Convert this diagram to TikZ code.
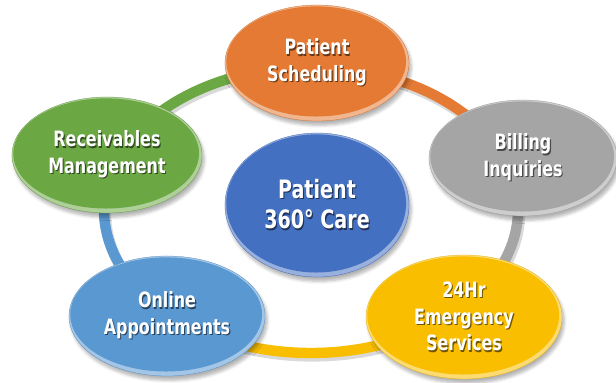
\documentclass[tikz,border=0pt]{standalone}
\usepackage{fontspec}
\setmainfont{DejaVu Sans Condensed}[FakeStretch=0.84]
\usetikzlibrary{shapes.geometric,shadows.blur,calc}
\definecolor{schedorange}{HTML}{E47A33}
\definecolor{billgray}{HTML}{A5A5A5}
\definecolor{emergold}{HTML}{F9BE00}
\definecolor{onlineblue}{HTML}{5A98D2}
\definecolor{recvgreen}{HTML}{6BA844}
\definecolor{coreblue}{HTML}{4470C2}
\newcommand\shd[1]{\makebox[0pt][l]{\kern0.8pt\raisebox{-0.9pt}{\textcolor{shcol}{#1}}}#1}
\begin{document}
\begin{tikzpicture}[x=0.025cm,y=0.025cm,
bubble/.style={ellipse,inner sep=0pt,minimum width=4.75cm,minimum height=2.9cm,
  fill=#1!55!white,draw=#1!90!black,line width=0.2pt,text=white,align=center,
  font=\bfseries\fontsize{15}{19}\selectfont,
  execute at begin node={\colorlet{shcol}{#1!45!black}},
  blur shadow={shadow xshift=1.5pt,shadow yshift=-3pt,shadow blur steps=6,shadow opacity=30},
  path picture={\fill[#1] let \p1=(path picture bounding box.north east),
    \p2=(path picture bounding box.center) in
    ([xshift=-0.6pt,yshift=1.1pt]\p2) ellipse [x radius={\x1-\x2-1.5pt},y radius={\y1-\y2-2.1pt}];}},
ringseg/.style={line width=0.26cm,draw=#1},
ringshd/.style={line width=0.28cm,draw=black!15},
]
\useasboundingbox (0,0) rectangle (616,382);
\coordinate (ring) at (311,172);
\draw[ringshd] ([shift={(1.5,-3)}]ring) ellipse [x radius=207,y radius=143];
\draw[ringseg=schedorange] (ring) ++(90:207 and 143) arc[start angle=90,end angle=18,x radius=207,y radius=143];
\draw[ringseg=billgray] (ring) ++(18:207 and 143) arc[start angle=18,end angle=-45,x radius=207,y radius=143];
\draw[ringseg=emergold] (ring) ++(-45:207 and 143) arc[start angle=-45,end angle=-134,x radius=207,y radius=143];
\draw[ringseg=onlineblue] (ring) ++(226:207 and 143) arc[start angle=226,end angle=162,x radius=207,y radius=143];
\draw[ringseg=recvgreen] (ring) ++(162:207 and 143) arc[start angle=162,end angle=90,x radius=207,y radius=143];
\node[bubble=schedorange,minimum width=4.6cm] (sched) at (317,319) {\shd{Patient}\\\shd{Scheduling}};
\node[bubble=billgray,minimum width=4.7cm] (bill) at (523,224) {\shd{Billing}\\\shd{Inquiries}};
\node[bubble=recvgreen] (recv) at (107,227) {\shd{Receivables}\\\shd{Management}};
\node[bubble=onlineblue,minimum width=4.9cm,minimum height=3cm] (online) at (167,66) {\shd{Online}\\\shd{Appointments}};
\node[bubble=emergold,minimum width=4.9cm,minimum height=3.1cm] (emerg) at (464,65) {\shd{24Hr}\\\shd{Emergency}\\\shd{Services}};
\node[bubble=coreblue,minimum width=4.6cm,minimum height=3.6cm,font=\bfseries\fontsize{18}{21.5}\selectfont] (core) at (317,177) {\shd{Patient}\\\shd{360° Care}};
\end{tikzpicture}
\end{document}
